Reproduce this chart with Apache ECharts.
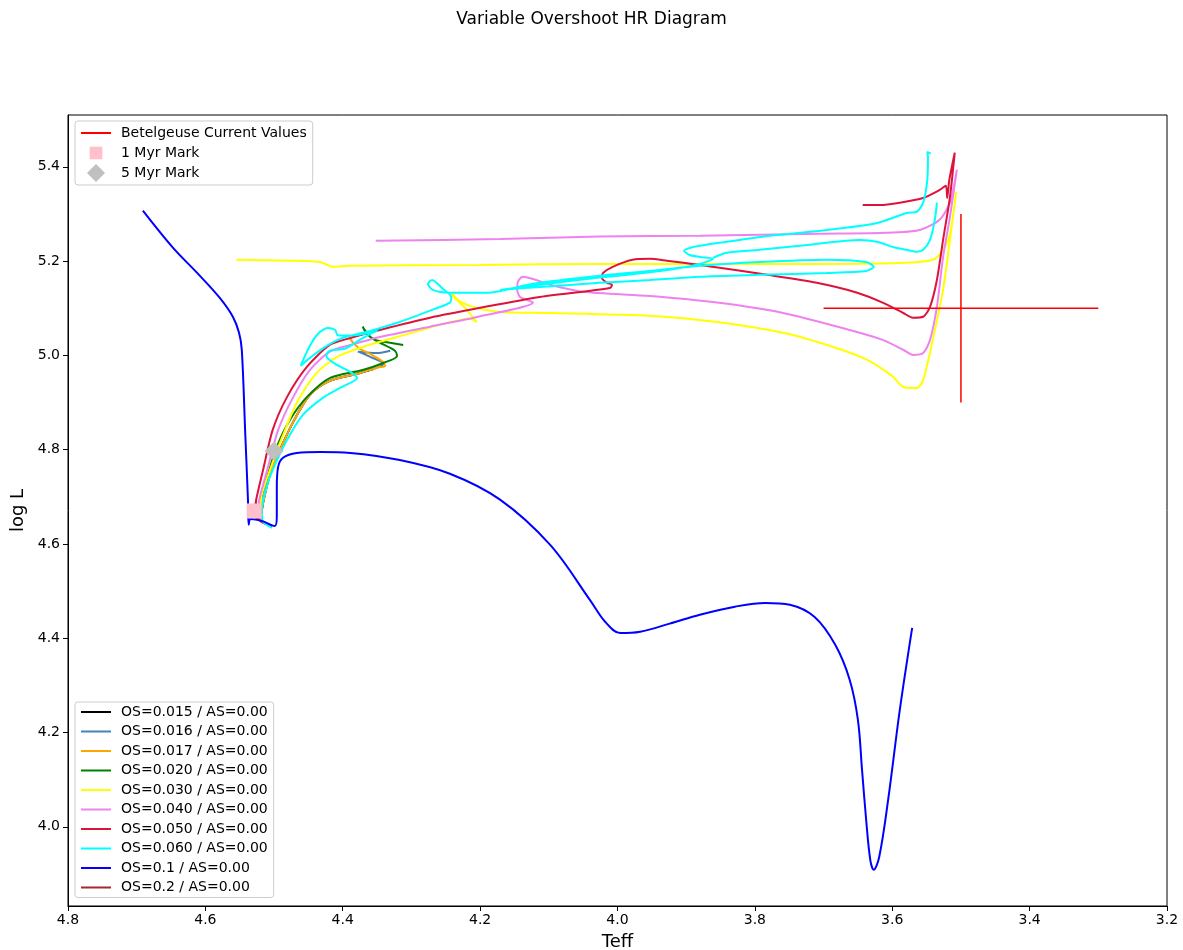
<!DOCTYPE html>
<html>
<head>
<meta charset="utf-8">
<title>Variable Overshoot HR Diagram</title>
<script src="https://cdn.jsdelivr.net/npm/echarts@6/dist/echarts.min.js"></script>
<style>
  html, body { margin: 0; padding: 0; background: #ffffff; }
  #chart { width: 1183px; height: 950px; }
</style>
</head>
<body>
<div id="chart"></div>
<script>
// Axis ticks (log Teff on x, log L on y)
const teffRange = [3.2, 4.8];
const logLRange = [3.832, 5.51];
const logLTicks = [4.0, 4.2, 4.4, 4.6, 4.8, 5.0, 5.2, 5.4];

// Evolutionary tracks as [log Teff, log L] pairs, one array per overshoot value
const trackOS015 = [
  [4.520, 4.651], [4.515, 4.694], [4.506, 4.747], [4.496, 4.785], [4.472, 4.859],
  [4.448, 4.916], [4.419, 4.946], [4.379, 4.961], [4.355, 4.971]
];
const trackOS016 = [
  [4.520, 4.651], [4.515, 4.694], [4.506, 4.747], [4.496, 4.785], [4.472, 4.859],
  [4.448, 4.916], [4.419, 4.946], [4.379, 4.961], [4.350, 4.974], [4.341, 4.982],
  [4.360, 4.997], [4.378, 5.008], [4.350, 5.005], [4.331, 5.010]
];
const trackOS017 = [
  [4.520, 4.651], [4.515, 4.694], [4.506, 4.747], [4.496, 4.785], [4.472, 4.859],
  [4.448, 4.916], [4.419, 4.946], [4.379, 4.961], [4.350, 4.974], [4.338, 4.978],
  [4.343, 4.988], [4.360, 5.003], [4.375, 5.014], [4.385, 5.027], [4.389, 5.035]
];
const trackOS020 = [
  [4.523, 4.658], [4.518, 4.700], [4.510, 4.742], [4.496, 4.806], [4.477, 4.863],
  [4.452, 4.912], [4.419, 4.952], [4.371, 4.969], [4.341, 4.984], [4.321, 4.999],
  [4.324, 5.010], [4.346, 5.027], [4.360, 5.039], [4.368, 5.054], [4.371, 5.061],
  [4.366, 5.048], [4.353, 5.033], [4.331, 5.027], [4.312, 5.022]
];
const trackOS030 = [
  [4.520, 4.668], [4.518, 4.704], [4.506, 4.757], [4.488, 4.827], [4.467, 4.899],
  [4.438, 4.963], [4.408, 4.997], [4.371, 5.018], [4.321, 5.039], [4.248, 5.069],
  [4.215, 5.078], [4.205, 5.071], [4.222, 5.101], [4.237, 5.122], [4.241, 5.131],
  [4.229, 5.114], [4.205, 5.101], [4.171, 5.092], [4.098, 5.090], [3.953, 5.084],
  [3.855, 5.071], [3.759, 5.048], [3.686, 5.018], [3.637, 4.991], [3.599, 4.955],
  [3.584, 4.933], [3.564, 4.931], [3.555, 4.948], [3.541, 5.033], [3.526, 5.139],
  [3.516, 5.245], [3.507, 5.347], [3.516, 5.256], [3.526, 5.224], [3.541, 5.203],
  [3.589, 5.196], [3.734, 5.194], [3.880, 5.194], [4.026, 5.194], [4.200, 5.192],
  [4.389, 5.190], [4.414, 5.188], [4.433, 5.198], [4.477, 5.201], [4.555, 5.203]
];
const trackOS040 = [
  [4.525, 4.668], [4.520, 4.704], [4.510, 4.757], [4.494, 4.842], [4.472, 4.912],
  [4.448, 4.969], [4.419, 5.008], [4.389, 5.022], [4.346, 5.039], [4.273, 5.061],
  [4.203, 5.082], [4.123, 5.112], [4.132, 5.118], [4.142, 5.124], [4.146, 5.139],
  [4.145, 5.156], [4.138, 5.167], [4.123, 5.162], [4.098, 5.150], [4.050, 5.135],
  [3.953, 5.126], [3.855, 5.112], [3.759, 5.090], [3.662, 5.054], [3.614, 5.033],
  [3.584, 5.012], [3.570, 5.001], [3.555, 5.005], [3.545, 5.033], [3.535, 5.103],
  [3.526, 5.209], [3.516, 5.294], [3.506, 5.394], [3.516, 5.324], [3.531, 5.288],
  [3.560, 5.266], [3.608, 5.260], [3.705, 5.258], [3.880, 5.254], [4.026, 5.252],
  [4.171, 5.247], [4.352, 5.243]
];
const trackOS050 = [
  [4.503, 4.638], [4.518, 4.647], [4.528, 4.662], [4.526, 4.694], [4.516, 4.757],
  [4.502, 4.842], [4.481, 4.912], [4.452, 4.976], [4.419, 5.022], [4.389, 5.037],
  [4.346, 5.054], [4.273, 5.080], [4.200, 5.101], [4.113, 5.124], [4.011, 5.143],
  [4.008, 5.150], [4.015, 5.154], [4.023, 5.165], [4.021, 5.175], [4.007, 5.188],
  [3.978, 5.203], [3.953, 5.205], [3.928, 5.201], [3.880, 5.192], [3.782, 5.171],
  [3.710, 5.154], [3.651, 5.133], [3.614, 5.112], [3.584, 5.090], [3.570, 5.080],
  [3.555, 5.082], [3.545, 5.103], [3.535, 5.160], [3.526, 5.245], [3.516, 5.336],
  [3.509, 5.430], [3.517, 5.372], [3.520, 5.334], [3.522, 5.360], [3.531, 5.351],
  [3.555, 5.334], [3.589, 5.324], [3.618, 5.319], [3.643, 5.319]
];
const trackOS060 = [
  [4.503, 4.634], [4.516, 4.647], [4.518, 4.672], [4.512, 4.715], [4.502, 4.757],
  [4.481, 4.821], [4.458, 4.874], [4.429, 4.910], [4.404, 4.931], [4.379, 4.952],
  [4.389, 4.965], [4.411, 4.982], [4.424, 4.999], [4.419, 5.010], [4.397, 5.014],
  [4.375, 5.033], [4.357, 5.048], [4.349, 5.052], [4.360, 5.048], [4.387, 5.042],
  [4.407, 5.042], [4.411, 5.054], [4.422, 5.058], [4.436, 5.046], [4.448, 5.020],
  [4.459, 4.986], [4.461, 4.978], [4.451, 4.991], [4.430, 5.014], [4.404, 5.035],
  [4.360, 5.052], [4.317, 5.071], [4.269, 5.097], [4.244, 5.112], [4.242, 5.124],
  [4.254, 5.141], [4.270, 5.160], [4.276, 5.152], [4.269, 5.139], [4.244, 5.133],
  [4.190, 5.133], [4.123, 5.152], [4.026, 5.169], [3.953, 5.179], [3.880, 5.190],
  [3.793, 5.198], [3.695, 5.203], [3.638, 5.198], [3.627, 5.188], [3.638, 5.179],
  [3.695, 5.175], [3.793, 5.171], [3.880, 5.167], [3.953, 5.160], [4.026, 5.154],
  [4.113, 5.145], [4.171, 5.139], [4.113, 5.150], [4.026, 5.165], [3.938, 5.179],
  [3.880, 5.194], [3.861, 5.205], [3.880, 5.209], [3.895, 5.213], [3.903, 5.222],
  [3.890, 5.230], [3.841, 5.241], [3.778, 5.254], [3.695, 5.266], [3.622, 5.281],
  [3.579, 5.302], [3.564, 5.305], [3.555, 5.324], [3.549, 5.372], [3.548, 5.421],
  [3.549, 5.432], [3.544, 5.428]
];
const trackOS060Loop = [
  [3.861, 5.207], [3.841, 5.218], [3.793, 5.224], [3.720, 5.235], [3.647, 5.245],
  [3.622, 5.241], [3.599, 5.230], [3.579, 5.224], [3.564, 5.220], [3.555, 5.224],
  [3.545, 5.245], [3.538, 5.288], [3.535, 5.324]
];
const trackOS10 = [
  [4.691, 5.307], [4.647, 5.228], [4.612, 5.175], [4.579, 5.122], [4.560, 5.082],
  [4.551, 5.048], [4.547, 5.012], [4.542, 4.836], [4.538, 4.694], [4.537, 4.641],
  [4.534, 4.653], [4.518, 4.649], [4.499, 4.638], [4.496, 4.660], [4.496, 4.721],
  [4.494, 4.764], [4.487, 4.783], [4.467, 4.793], [4.433, 4.795], [4.389, 4.793],
  [4.317, 4.778], [4.244, 4.749], [4.171, 4.694], [4.098, 4.598], [4.040, 4.481],
  [4.018, 4.435], [3.996, 4.411], [3.967, 4.414], [3.924, 4.431], [3.880, 4.450],
  [3.829, 4.467], [3.785, 4.475], [3.749, 4.471], [3.713, 4.445], [3.683, 4.386],
  [3.662, 4.312], [3.650, 4.227], [3.644, 4.121], [3.638, 4.015], [3.632, 3.930],
  [3.627, 3.909], [3.619, 3.936], [3.606, 4.057], [3.589, 4.248], [3.571, 4.422]
];
const trackOS20 = [
  [4.503, 4.638], [4.518, 4.647], [4.528, 4.662], [4.526, 4.694]
];

// Betelgeuse: log Teff = 3.5 ± 0.2, log L = 5.1 ± 0.2
const betelgeuseTeff = [3.3, 3.5, 3.7];
const betelgeuseLogL = [4.9, 5.1, 5.3];

// Age marks
const mark1Myr = [[4.529, 4.670]];
const mark5Myr = [[4.500, 4.797]];

const osNames = [
  'OS=0.015 / AS=0.00', 'OS=0.016 / AS=0.00', 'OS=0.017 / AS=0.00', 'OS=0.020 / AS=0.00',
  'OS=0.030 / AS=0.00', 'OS=0.040 / AS=0.00', 'OS=0.050 / AS=0.00', 'OS=0.060 / AS=0.00',
  'OS=0.1 / AS=0.00', 'OS=0.2 / AS=0.00'
];
const osColors = [
  '#000000', '#4682b4', '#ffa500', '#008000', '#ffff00',
  '#ee82ee', '#dc143c', '#00ffff', '#0000ff', '#a52a2a'
];

const FONT = "'DejaVu Sans', 'Liberation Sans', sans-serif";

function track(idx, data, smooth) {
  return {
    name: osNames[idx],
    type: 'line',
    data: data,
    color: osColors[idx],
    symbol: 'none',
    showSymbol: false,
    smooth: smooth,
    lineStyle: { color: osColors[idx], width: 2 },
    silent: true,
    animation: false
  };
}

const betelName = 'Betelgeuse Current Values';
const series = [
  track(9, trackOS20, 0.2),
  track(0, trackOS015, 0.3),
  track(1, trackOS016, 0.3),
  track(2, trackOS017, 0.3),
  track(3, trackOS020, 0.3),
  track(4, trackOS030, 0.25),
  track(5, trackOS040, 0.25),
  track(6, trackOS050, 0.25),
  track(7, trackOS060, 0.25),
  track(7, trackOS060Loop, 0.3),
  track(8, trackOS10, 0.35),
  {
    name: betelName, type: 'line', symbol: 'none', color: 'red',
    lineStyle: { color: 'red', width: 1.5 }, animation: false, silent: true,
    data: [[betelgeuseTeff[2], betelgeuseLogL[1]], [betelgeuseTeff[0], betelgeuseLogL[1]]]
  },
  {
    name: betelName, type: 'line', symbol: 'none', color: 'red',
    lineStyle: { color: 'red', width: 1.5 }, animation: false, silent: true,
    data: [[betelgeuseTeff[1], betelgeuseLogL[0]], [betelgeuseTeff[1], betelgeuseLogL[2]]]
  },
  {
    name: '1 Myr Mark', type: 'scatter', symbol: 'rect', symbolSize: 15,
    color: '#ffc0cb', itemStyle: { color: '#ffc0cb', opacity: 1 }, data: mark1Myr,
    z: 10, animation: false, silent: true
  },
  {
    name: '5 Myr Mark', type: 'scatter', symbol: 'diamond', symbolSize: 19,
    color: '#c0c0c0', itemStyle: { color: '#c0c0c0', opacity: 1 }, data: mark5Myr,
    z: 10, animation: false, silent: true
  }
];

// Legend icons: a 2px line for tracks, plain shapes for the marks
const lineIcon14 = 'path://M0,0M30,14M0,6L30,6L30,8L0,8Z';
const lineIcon18 = 'path://M0,0M30,18M0,8L30,8L30,10L0,10Z';
const squareIcon = 'path://M0,0M20,20M3,3L17,3L17,17L3,17Z';
const diamondIcon = 'path://M0,0M20,20M10,0L20,10L10,20L0,10Z';

const legendBox = {
  orient: 'vertical',
  backgroundColor: 'rgba(255,255,255,0.85)',
  borderColor: '#cccccc',
  borderWidth: 1,
  borderRadius: 3,
  selectedMode: false,
  itemWidth: 30,
  textStyle: { fontSize: 14, color: '#000', fontFamily: FONT, padding: [0, 0, 0, 5] }
};

const option = {
  animation: false,
  backgroundColor: '#ffffff',
  textStyle: { fontFamily: FONT },
  title: {
    text: 'Variable Overshoot HR Diagram',
    left: 'center',
    top: 6,
    textStyle: { fontSize: 17, fontWeight: 'normal', color: '#000', fontFamily: FONT }
  },
  grid: {
    left: 68, right: 16, top: 115, bottom: 44,
    outerBoundsMode: 'none',
    containLabel: false,
    show: true, borderColor: '#000', borderWidth: 1, backgroundColor: 'transparent'
  },
  xAxis: {
    type: 'value',
    inverse: true,
    min: teffRange[0],
    max: teffRange[1],
    interval: 0.2,
    name: 'Teff',
    nameLocation: 'middle',
    nameGap: 27,
    nameTextStyle: { fontSize: 18, color: '#000', fontFamily: FONT },
    axisLine: { show: true, lineStyle: { color: '#000', width: 1 } },
    axisTick: { show: true, length: 5, lineStyle: { color: '#000' } },
    axisLabel: { fontSize: 14, color: '#000', margin: 7, formatter: v => v.toFixed(1) },
    splitLine: { show: false }
  },
  yAxis: {
    type: 'value',
    min: logLRange[0],
    max: logLRange[1],
    name: 'log L',
    nameLocation: 'middle',
    nameGap: 38,
    nameTextStyle: { fontSize: 18, color: '#000', fontFamily: FONT },
    axisLine: { show: true, lineStyle: { color: '#000', width: 1 } },
    axisTick: { show: true, length: 5, lineStyle: { color: '#000' }, customValues: logLTicks },
    axisLabel: { fontSize: 14, color: '#000', margin: 8, customValues: logLTicks, formatter: v => v.toFixed(1) },
    splitLine: { show: false }
  },
  legend: [
    Object.assign({}, legendBox, {
      left: 75, top: 121,
      padding: [3, 6, 3, 6],
      itemHeight: 18,
      itemGap: 2,
      data: [
        { name: betelName, icon: lineIcon18 },
        { name: '1 Myr Mark', icon: squareIcon },
        { name: '5 Myr Mark', icon: diamondIcon }
      ]
    }),
    Object.assign({}, legendBox, {
      left: 75, top: 702,
      padding: [3, 6, 3, 6],
      itemHeight: 14,
      itemGap: 5.5,
      data: osNames.map(n => ({ name: n, icon: lineIcon14 }))
    })
  ],
  series: series
};

const chart = echarts.init(document.getElementById('chart'), null, { renderer: 'canvas' });
chart.setOption(option);
</script>
</body>
</html>
